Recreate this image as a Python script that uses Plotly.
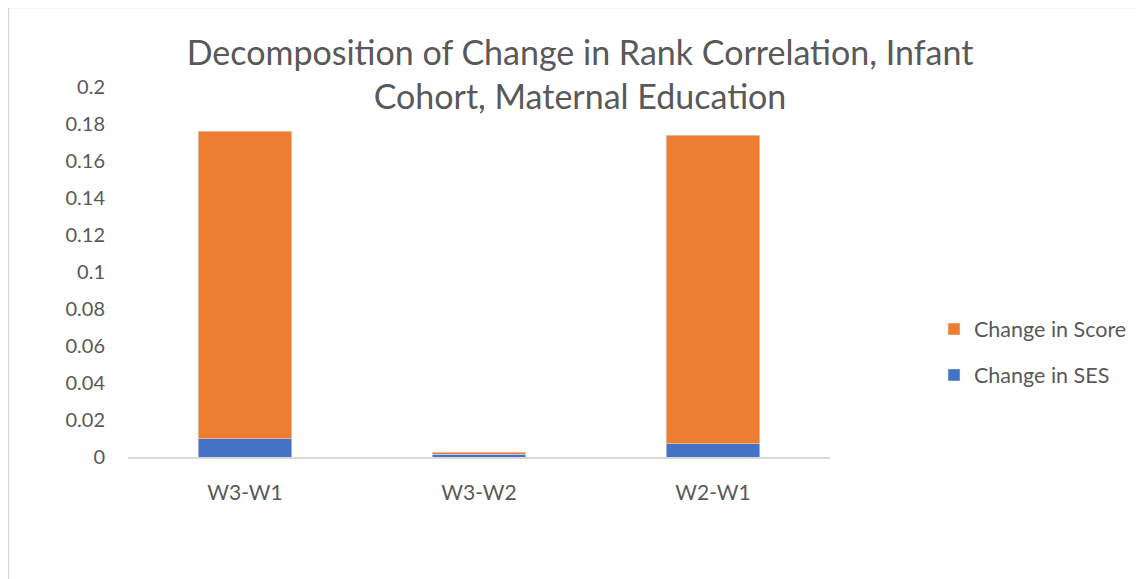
import plotly.graph_objects as go

categories = ["W3-W1", "W3-W2", "W2-W1"]
ses_values = [0.0098, 0.0016, 0.0073]
score_values = [0.1662, 0.0009, 0.1665]
y_ticks = [0, 0.02, 0.04, 0.06, 0.08, 0.1, 0.12, 0.14, 0.16, 0.18, 0.2]
y_tick_labels = ["0", "0.02", "0.04", "0.06", "0.08", "0.1", "0.12", "0.14", "0.16", "0.18", "0.2"]

FONT = "Lato"
GREY = "#595959"

fig = go.Figure()
fig.add_trace(go.Bar(x=categories, y=ses_values, name="Change in SES",
                     marker_color="#4472C4", width=0.4, legendrank=2, legendgroup="ses"))
fig.add_trace(go.Bar(x=categories, y=score_values, name="Change in Score",
                     marker_color="#ED7D31", width=0.4, legendrank=1, legendgroup="score"))

# page body has an 8px margin; figure coordinates are screen minus 8
OFF = 8
W, H = 1146 - OFF, 579 - OFF
L, R, T, B = 128 - OFF, 830 - OFF, 87 - OFF, 457 - OFF
pw, ph = R - L, B - T

def px_x(x):
    return (x - OFF - L) / pw

def px_y(y):
    return (B - (y - OFF)) / ph

fig.update_layout(
    width=W, height=H,
    barmode="stack",
    paper_bgcolor="white", plot_bgcolor="white",
    margin=dict(l=L, r=W - R, t=T, b=H - B, pad=0),
    font=dict(family=FONT, color=GREY, size=20),
    title=dict(
        text="Decomposition of Change in Rank Correlation, Infant<br>Cohort, Maternal Education",
        x=(580 - OFF) / W, xanchor="center", y=1 - 57 / H, yanchor="middle",
        font=dict(family=FONT, size=34, color=GREY),
    ),
    xaxis=dict(showgrid=False, showline=True, linecolor="#D9D9D9", linewidth=1.5,
               ticks="", tickfont=dict(size=21, color=GREY), ticklabelstandoff=16),
    yaxis=dict(range=[0, 0.2], tickvals=y_ticks, ticktext=y_tick_labels,
               showgrid=False, zeroline=False, showline=False, ticks="",
               tickfont=dict(size=20, color=GREY), ticklabelstandoff=22),
    legend=dict(x=px_x(934), xanchor="left", y=px_y(352), yanchor="middle",
                traceorder="grouped", tracegroupgap=15, itemwidth=30,
                font=dict(size=21.5, color=GREY), bgcolor="rgba(0,0,0,0)"),
    shapes=[dict(type="rect", xref="paper", yref="paper",
                 x0=px_x(8.5), x1=px_x(1170), y0=px_y(600), y1=px_y(7.5),
                 line=dict(color="#D9D9D9", width=1.5), fillcolor="rgba(0,0,0,0)",
                 layer="below")],
)

fig.write_html("out.html")
